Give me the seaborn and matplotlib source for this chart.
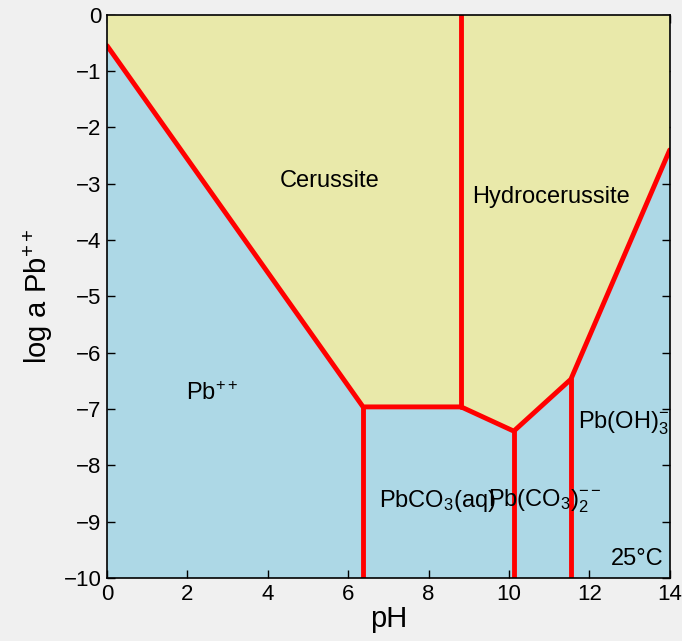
import matplotlib
matplotlib.use("Agg")
import matplotlib.pyplot as plt
import seaborn as sns
import pandas as pd

# boundary vertices (pH, log a Pb++)
upper_ph = [0.0, 6.37, 8.81, 10.12, 11.54, 14.0]
upper_loga = [-0.55, -6.96, -6.96, -7.39, -6.47, -2.4]

# vertical boundaries
vert_ph = [6.37, 8.81, 10.12, 11.54]
vert_top = [-6.96, 0.0, -7.39, -6.47]
vert_bot = [-10.0, -6.96, -10.0, -10.0]

labels = [r"Cerussite", r"Hydrocerussite", r"Pb$^{++}$", r"Pb(OH)$_3^{-}$",
          r"PbCO$_3$(aq)", r"Pb(CO$_3$)$_2^{--}$", "25°C"]
label_x = [5.55, 11.05, 2.62, 12.84, 8.21, 10.9, 13.2]
label_y = [-3.05, -3.34, -6.84, -7.34, -8.73, -8.72, -9.77]

sns.set_style("ticks")
plt.rcParams["font.family"] = ["Liberation Sans", "DejaVu Sans"]
plt.rcParams["mathtext.fontset"] = "custom"
plt.rcParams["mathtext.rm"] = "Liberation Sans"
plt.rcParams["mathtext.it"] = "Liberation Sans"
plt.rcParams["text.color"] = "black"
plt.rcParams["axes.labelcolor"] = "black"
plt.rcParams["xtick.color"] = "black"
plt.rcParams["ytick.color"] = "black"

fig = plt.figure(figsize=(6.82, 6.41), dpi=100, facecolor="#f0f0f0")
ax = fig.add_axes([0.157, 0.098, 0.825, 0.879])
ax.set_facecolor("#add8e6")

poly_x = upper_ph + [14.0, 0.0]
poly_y = upper_loga + [0.0, 0.0]
ax.fill(poly_x, poly_y, color="#e9e9aa", lw=0)

df = pd.DataFrame({"pH": upper_ph, "loga": upper_loga})
sns.lineplot(data=df, x="pH", y="loga", sort=False, estimator=None,
             color="red", lw=3.5, ax=ax)
for x, t, b in zip(vert_ph, vert_top, vert_bot):
    seg = pd.DataFrame({"pH": [x, x], "loga": [t, b]})
    sns.lineplot(data=seg, x="pH", y="loga", sort=False, estimator=None,
                 color="red", lw=3.5, ax=ax)

for s, x, y in zip(labels, label_x, label_y):
    ax.text(x, y, s, ha="center", va="baseline", fontsize=17)

ax.set_xlim(0, 14)
ax.set_ylim(-10, 0)
ax.set_xticks(range(0, 15, 2))
ax.set_yticks(range(-10, 1))
ax.tick_params(direction="in", top=True, right=True, labelsize=16,
               length=6, width=1, pad=4)
ax.set_xlabel("pH", fontsize=21, labelpad=0)
ax.set_ylabel(r"log a Pb$^{++}$", fontsize=21, labelpad=6)
for sp in ax.spines.values():
    sp.set_linewidth(1.2)
    sp.set_color("black")

plt.savefig("out.png", dpi=100, facecolor=fig.get_facecolor())
